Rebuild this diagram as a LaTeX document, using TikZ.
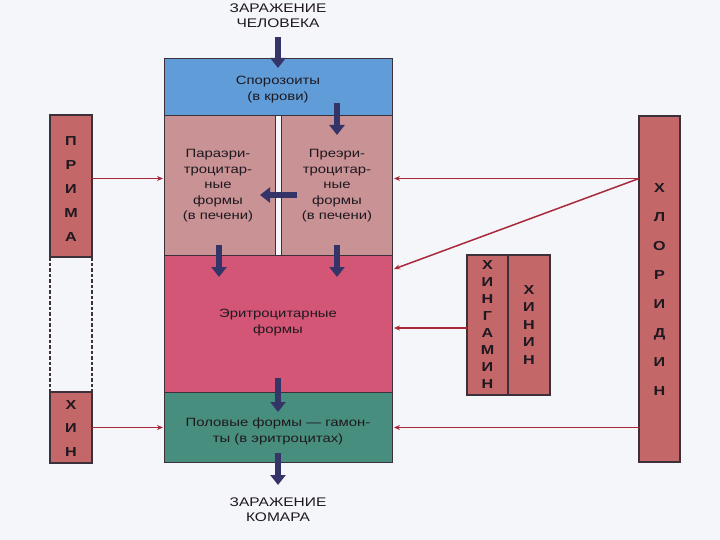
\documentclass[tikz,border=0pt]{standalone}
\usepackage{fontspec}
\newfontfamily\bfnt[FakeStretch=1.24]{Liberation Sans}
\usetikzlibrary{arrows.meta}
\definecolor{bgc}{RGB}{245,246,249}
\definecolor{sporc}{RGB}{96,157,216}
\definecolor{liverc}{RGB}{201,146,148}
\definecolor{erythc}{RGB}{212,86,118}
\definecolor{gamc}{RGB}{72,142,126}
\definecolor{drugc}{RGB}{195,103,105}
\definecolor{navyc}{RGB}{52,52,105}
\definecolor{redlc}{RGB}{168,40,60}
\definecolor{edgec}{RGB}{60,48,58}
\definecolor{txtc}{RGB}{30,24,32}
\begin{document}
\begin{tikzpicture}[x=1pt,y=-1pt,
  stagebox/.style={draw=edgec, line width=0.9pt, rectangle, inner sep=0pt, outer sep=0pt},
  drugbox/.style={draw=edgec, line width=1.1pt, fill=drugc, rectangle, inner sep=0pt, outer sep=0pt},
  stagetext/.style={text=txtc, align=center, inner sep=0pt, font={\bfnt\fontsize{12}{15.5}\selectfont}},
  captext/.style={text=txtc, align=center, inner sep=0pt, font={\bfnt\fontsize{12.5}{15}\selectfont}},
  vlett/.style={text=txtc, align=center, inner sep=0pt, font={\bfnt\bfseries\fontsize{13}{#1}\selectfont}},
  bigarrow/.style={draw=navyc, line width=6pt, -{Triangle[width=15pt,length=10pt]}},
  redline/.style={draw=redlc, line width=1.5pt, -{Stealth[length=6pt,width=5pt]}}]
\useasboundingbox (0,0) rectangle (720,540);
\fill[bgc] (0,0) rectangle (720,540);

% stage boxes
\node[stagebox, fill=sporc, minimum width=228pt, minimum height=57pt] (spor) at (278,86.5) {};
\node[stagebox, fill=liverc, minimum width=111pt, minimum height=140pt] (para) at (219.5,185) {};
\node[stagebox, fill=liverc, minimum width=111pt, minimum height=140pt] (pre) at (336.5,185) {};
\node[stagebox, fill=erythc, minimum width=228pt, minimum height=137pt] (eryth) at (278,323.5) {};
\node[stagebox, fill=gamc, minimum width=228pt, minimum height=70pt] (gam) at (278,427) {};

% stage texts
\node[captext] (inftop) at (278,16) {ЗАРАЖЕНИЕ\\ЧЕЛОВЕКА};
\node[stagetext] (sportxt) at (278,89.5) {Спорозоиты\\(в крови)};
\node[stagetext] (paratxt) at (218,186) {Параэри-\\троцитар-\\ные\\формы\\(в печени)};
\node[stagetext] (pretxt) at (337,186) {Преэри-\\троцитар-\\ные\\формы\\(в печени)};
\node[stagetext] (erytxt) at (278,322.5) {Эритроцитарные\\формы};
\node[stagetext] (gamtxt) at (278,431.5) {Половые формы — гамон-\\ты (в эритроцитах)};
\node[captext] (infbot) at (278,509.5) {ЗАРАЖЕНИЕ\\КОМАРА};

% drug boxes
\node[drugbox, minimum width=42pt, minimum height=142pt] (prima) at (71,186) {};
\node[drugbox, minimum width=42pt, minimum height=71pt] (hin) at (71,427.5) {};
\node[drugbox, minimum width=41pt, minimum height=346pt] (chlor) at (659.5,289) {};
\node[drugbox, minimum width=41pt, minimum height=140pt] (hing) at (487.5,325) {};
\node[drugbox, minimum width=42pt, minimum height=140pt] (hinin) at (529,325) {};

\node[vlett=24] (primat) at (71,189.5) {П\\Р\\И\\М\\А};
\node[vlett=23.5] (hint) at (71,428.5) {Х\\И\\Н};
\node[vlett=29] (chlort) at (659.5,289.5) {Х\\Л\\О\\Р\\И\\Д\\И\\Н};
\node[vlett=17] (hingt) at (487.5,325) {Х\\И\\Н\\Г\\А\\М\\И\\Н};
\node[vlett=17.5] (hinint) at (529,325) {Х\\И\\Н\\И\\Н};

% dashed link between ПРИМА and ХИН
\draw[edgec, line width=1.2pt, dash pattern=on 3.5pt off 2pt] (prima.south west) -- (hin.north west);
\draw[edgec, line width=1.2pt, dash pattern=on 3.5pt off 2pt] (prima.south east) -- (hin.north east);

% big arrows
\coordinate (a0s) at (278,37);   \coordinate (a0e) at (278,68);
\coordinate (a1s) at (337,103);  \coordinate (a1e) at (337,135);
\coordinate (a2s) at (297,195);  \coordinate (a2e) at (260,195);
\coordinate (a3s) at (219,245);  \coordinate (a3e) at (219,277);
\coordinate (a4s) at (337,245);  \coordinate (a4e) at (337,277);
\coordinate (a5s) at (278,378);  \coordinate (a5e) at (278,412);
\coordinate (a6s) at (278,453);  \coordinate (a6e) at (278,485);
\draw[bigarrow] (a0s) -- (a0e);
\draw[bigarrow] (a1s) -- (a1e);
\draw[bigarrow] (a2s) -- (a2e);
\draw[bigarrow] (a3s) -- (a3e);
\draw[bigarrow] (a4s) -- (a4e);
\draw[bigarrow] (a5s) -- (a5e);
\draw[bigarrow] (a6s) -- (a6e);

% drug lines
\coordinate (ya) at (0,178.5);
\coordinate (yb) at (0,269);
\coordinate (yc) at (0,328);
\coordinate (yd) at (0,427.5);
\draw[redline] (prima.east |- ya) -- ([xshift=-1pt]para.west |- ya);
\draw[redline] (hin.east |- yd) -- ([xshift=-1pt]gam.west |- yd);
\draw[redline] (chlor.west |- ya) -- ([xshift=2pt]pre.east |- ya);
\draw[redline] (chlor.west |- ya) -- ([xshift=2pt]eryth.east |- yb);
\draw[redline] (hing.west |- yc) -- ([xshift=2pt]eryth.east |- yc);
\draw[redline] (chlor.west |- yd) -- ([xshift=2pt]gam.east |- yd);
\end{tikzpicture}
\end{document}
